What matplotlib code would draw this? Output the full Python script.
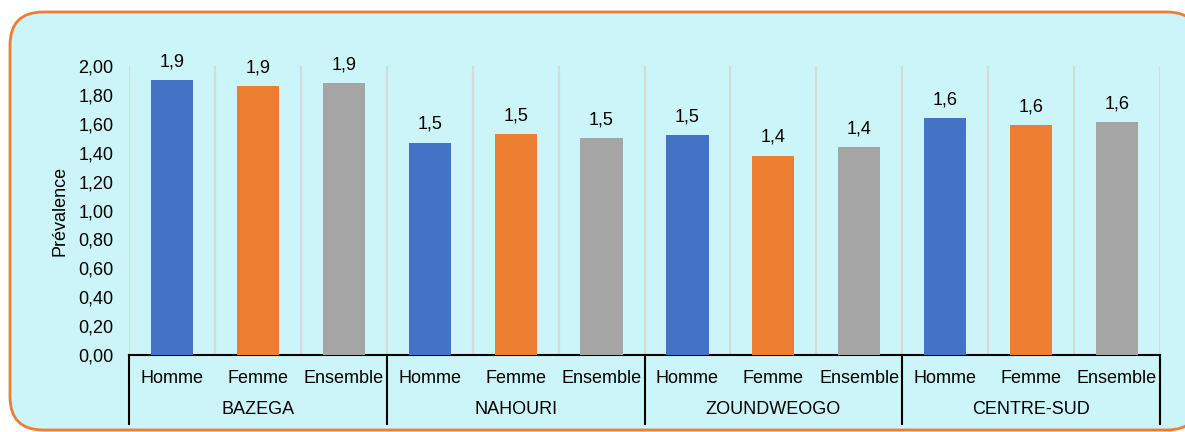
import matplotlib.pyplot as plt
from matplotlib.patches import FancyBboxPatch
from matplotlib.lines import Line2D
import matplotlib.transforms as mtransforms

plt.rcParams['font.family'] = ['Liberation Sans', 'DejaVu Sans']

# Data
provinces = ["BAZEGA", "NAHOURI", "ZOUNDWEOGO", "CENTRE-SUD"]
sexes = ["Homme", "Femme", "Ensemble"]
values = [1.90, 1.86, 1.88,
          1.47, 1.53, 1.50,
          1.52, 1.38, 1.44,
          1.64, 1.59, 1.61]
colors_by_sex = ["#4472C4", "#ED7D31", "#A5A5A5"]
y_ticks = [0.0, 0.2, 0.4, 0.6, 0.8, 1.0, 1.2, 1.4, 1.6, 1.8, 2.0]

FS = 13

fig = plt.figure(figsize=(11.85, 4.32), dpi=100)

# rounded panel behind the chart
panel = FancyBboxPatch((10 / 1185, 2 / 432), 1190 / 1185, 418 / 432,
                       boxstyle="round,pad=0,rounding_size=0.028",
                       transform=fig.transFigure, facecolor="#CBF5F8",
                       edgecolor="#ED7D31", linewidth=2,
                       mutation_aspect=1185 / 432)
panel.set_zorder(-10)
fig.patches.append(panel)

ax = fig.add_axes([129 / 1185, 77 / 432, 1031 / 1185, 289 / 432])
ax.set_facecolor("none")
ax.set_zorder(1)

n = len(values)
x = list(range(n))
bar_colors = [colors_by_sex[i % 3] for i in range(n)]
bars = ax.bar(x, values, width=0.49, color=bar_colors, zorder=3)

for rect, v in zip(bars, values):
    ax.annotate(f"{v:.1f}".replace(".", ","),
                (rect.get_x() + rect.get_width() / 2, v),
                xytext=(0, 7), textcoords="offset points",
                ha="center", va="bottom", fontsize=FS)

ax.set_xlim(-0.5, n - 0.5)
ax.set_ylim(0, 2.0)
ax.set_yticks(y_ticks)
ax.set_yticklabels([f"{t:.2f}".replace(".", ",") for t in y_ticks], fontsize=FS)
ax.tick_params(axis="y", length=0, pad=11)
ax.set_xticks([])
ax.set_ylabel("Prévalence", fontsize=FS, labelpad=7)

for s in ["top", "right", "left"]:
    ax.spines[s].set_visible(False)
ax.spines["bottom"].set_color("black")
ax.spines["bottom"].set_linewidth(1.5)

# light vertical separators between categories
for b in range(n + 1):
    ax.axvline(b - 0.5, color="#D9D9D9", linewidth=1.5, zorder=1)

# two-level category axis
trans = mtransforms.blended_transform_factory(ax.transData, ax.transAxes)
for i in range(n):
    ax.text(i, -0.08, sexes[i % 3], transform=trans, ha="center",
            va="center", fontsize=FS)
for g, name in enumerate(provinces):
    ax.text(g * 3 + 1, -0.19, name, transform=trans, ha="center",
            va="center", fontsize=FS)
for g in range(len(provinces) + 1):
    ax.add_line(Line2D([g * 3 - 0.5, g * 3 - 0.5], [0, -0.24],
                       transform=trans, color="black", linewidth=1.5,
                       clip_on=False))

fig.savefig("out.png", dpi=100)
